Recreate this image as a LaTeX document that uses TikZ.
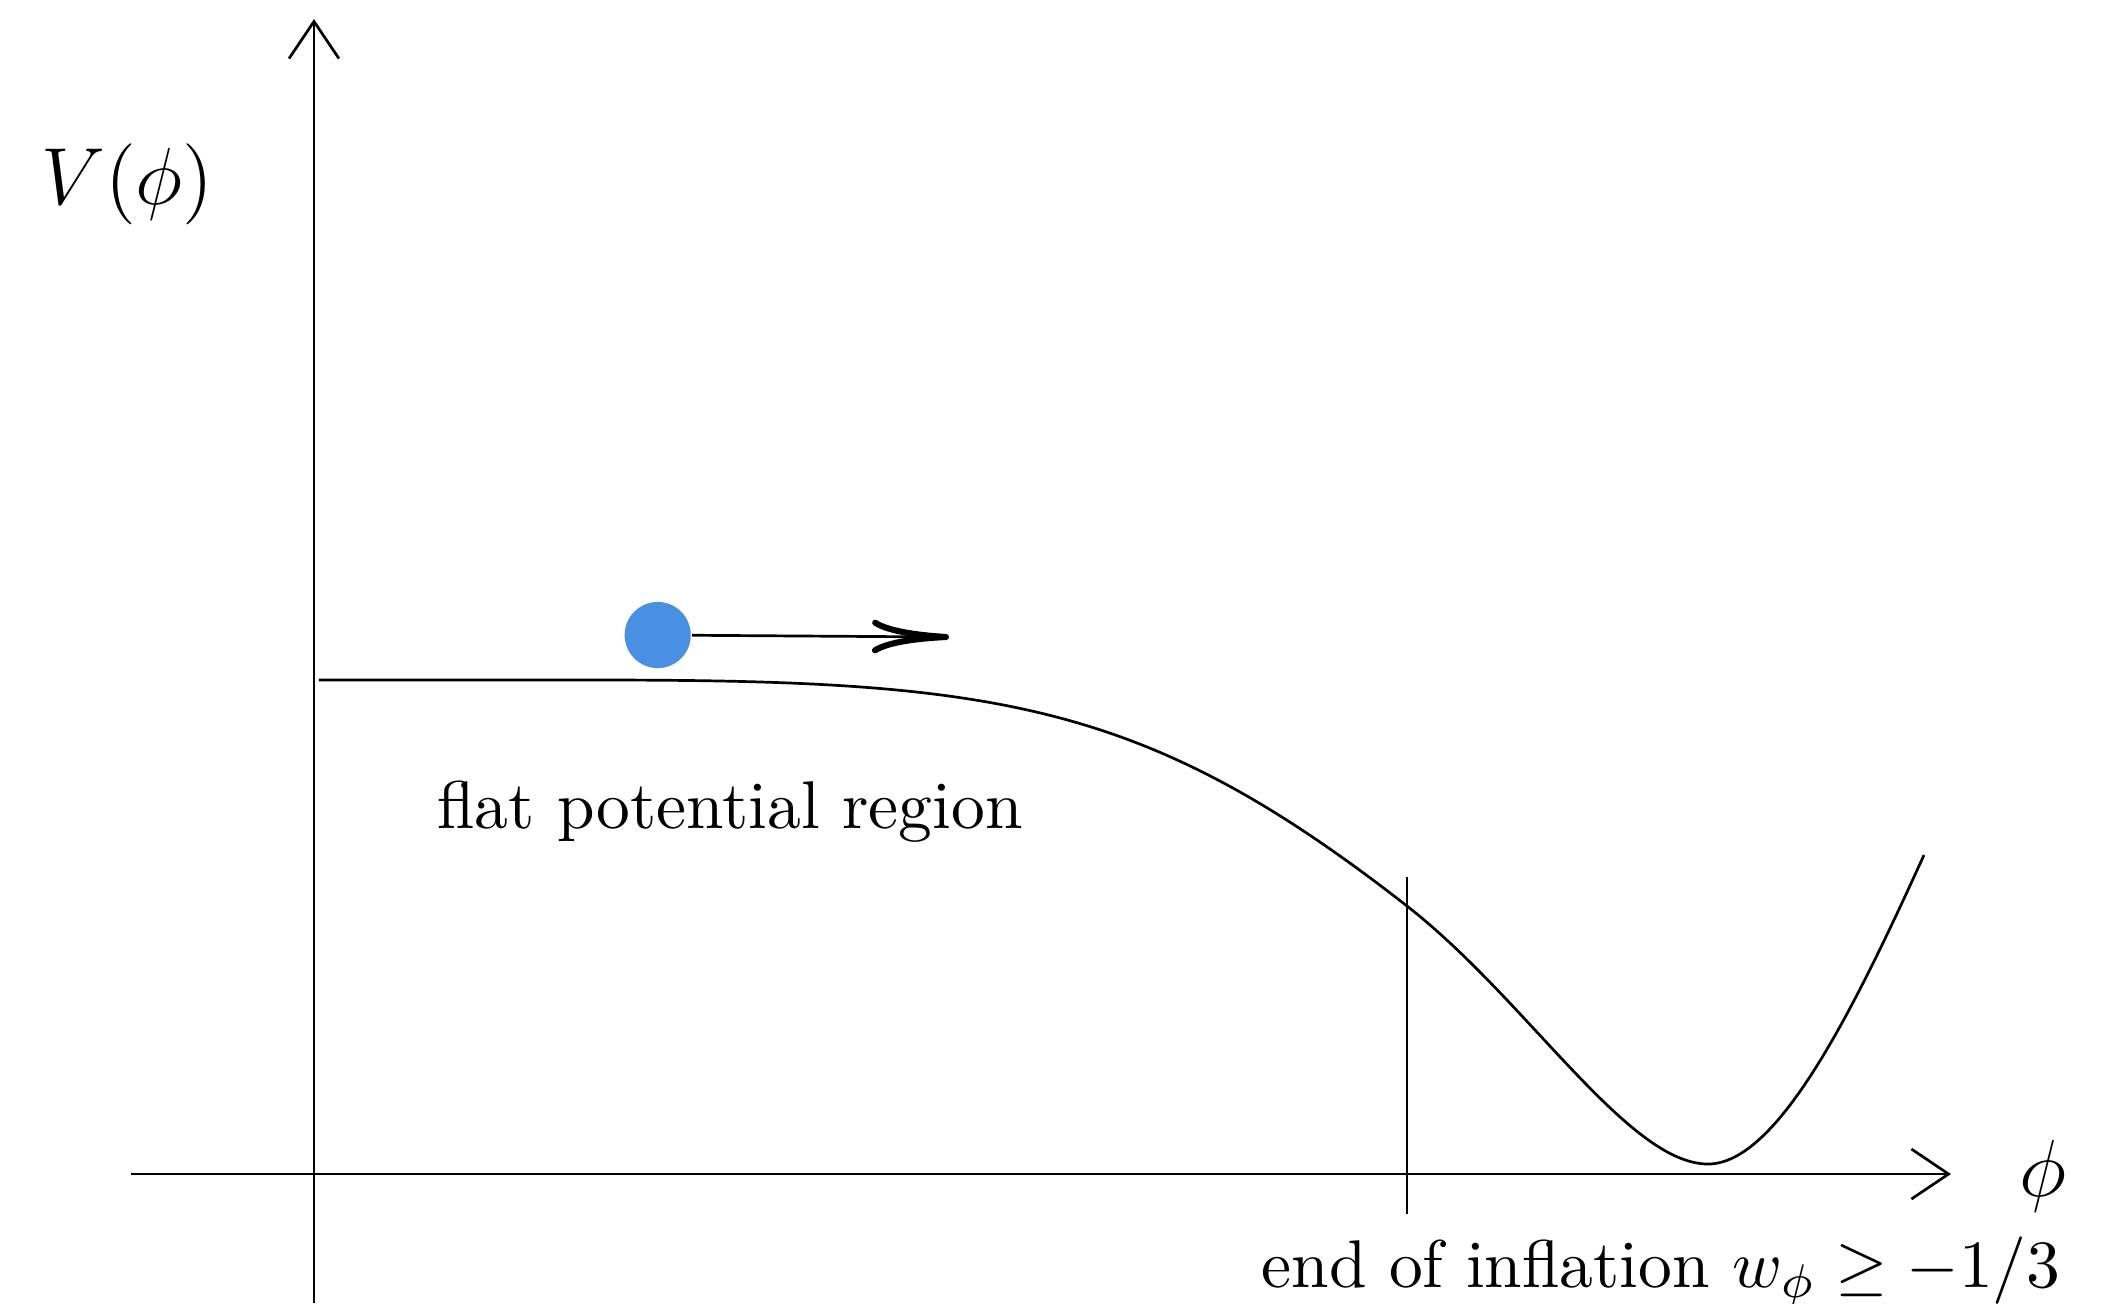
\documentclass[tikz,border=0pt]{standalone}
\usetikzlibrary{arrows.meta}
\definecolor{ballblue}{RGB}{74,144,226}
\begin{document}
\begin{tikzpicture}[x=0.148148pt,y=-0.148148pt,
  axis/.style={line width=0.4pt, -{Straight Barb[length=5.5pt,width=7.4pt]}},
  curveline/.style={line width=0.4pt},
  ball/.style={circle, fill=ballblue, inner sep=0pt, minimum size=9.8pt},
  motion/.style={line width=0.4pt, -{To[length=11.4pt,width=5pt,line width=0.9pt]}},
  lbl/.style={inner sep=0pt, anchor=base}]
\useasboundingbox (0,0) rectangle (2126,1303);
% axes
\coordinate (xs) at (131,1174);
\coordinate (xe) at (1951,1174);
\coordinate (ys) at (314,1303);
\coordinate (ye) at (314,19);
\draw[axis] (xs) -- (xe);
\draw[axis] (ys) -- (ye);
% end-of-inflation marker
\coordinate (ms) at (1407,877);
\coordinate (me) at (1407,1214);
\draw[curveline] (ms) -- (me);
% potential
\draw[curveline] (319,680) -- (600,680)
  .. controls (1000,680) and (1147,703) .. (1407,906)
  .. controls (1527,999.6) and (1628,1164) .. (1708,1164)
  .. controls (1778,1164) and (1854,1009) .. (1924,855);
% ball and motion arrow
\node[ball] (ball) at (657.7,635) {};
\coordinate (tip) at (949,637);
\draw[motion] (ball) -- (tip);
% labels
\node[lbl] (vlab) at (127.5,204) {\large $V(\phi)$};
\node[lbl] (philab) at (2043,1196) {\large $\phi$};
\node[lbl] (flat) at (730,828) {flat potential region};
\node[lbl] (endinf) at (1661,1287) {end of inflation $w_\phi \geq -1/3$};
\end{tikzpicture}
\end{document}
